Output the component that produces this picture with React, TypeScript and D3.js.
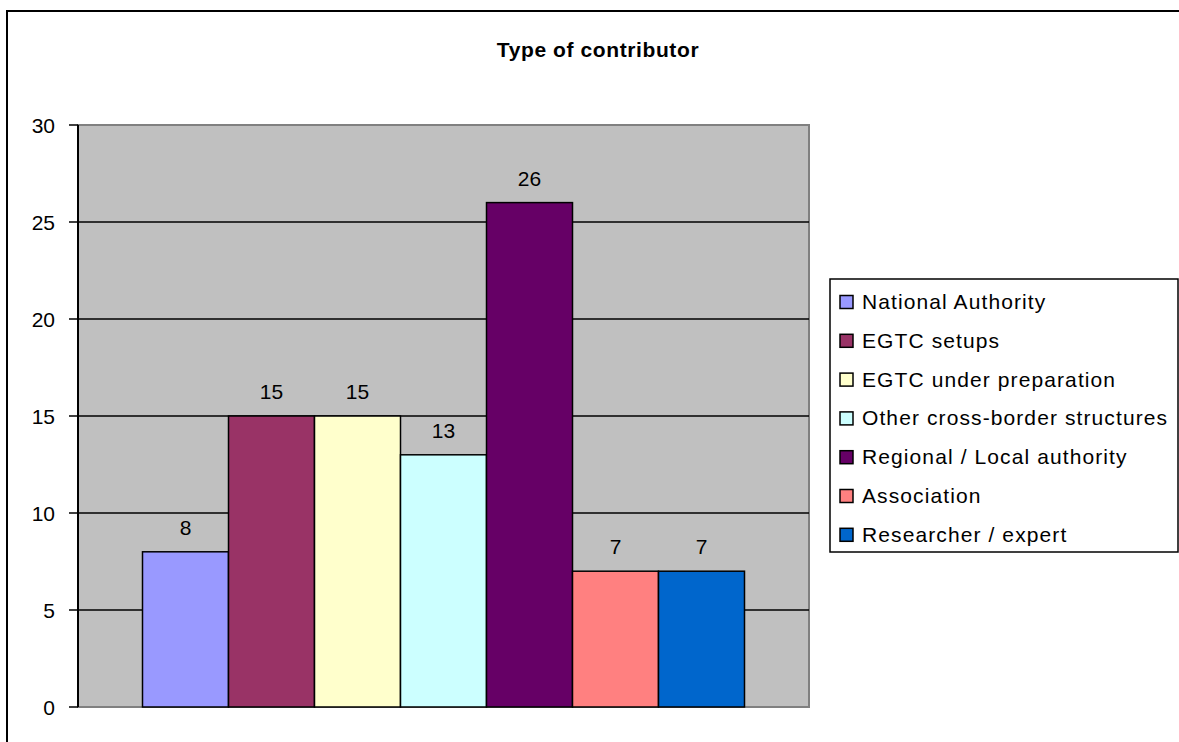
import React from "react";
import * as d3 from "d3";

const categories = [
  "National Authority",
  "EGTC setups",
  "EGTC under preparation",
  "Other cross-border structures",
  "Regional / Local authority",
  "Association",
  "Researcher / expert",
];
const values = [8, 15, 15, 13, 26, 7, 7];
const colors = ["#9999FF", "#993366", "#FFFFCC", "#CCFFFF", "#660066", "#FF8080", "#0066CC"];
const yTicks = [0, 5, 10, 15, 20, 25, 30];

const W = 1179;
const H = 742;
const plot = { left: 78, right: 809, top: 125, bottom: 707 };
const FONT = "Arial, 'Liberation Sans', sans-serif";

export default function App() {
  const y = d3.scaleLinear().domain([0, 30]).range([plot.bottom, plot.top]);
  const pw = plot.right - plot.left;
  const bw = pw / (categories.length + 1.5);
  const x = d3
    .scaleBand<string>()
    .domain(categories)
    .range([plot.left + bw * 0.75, plot.right - bw * 0.75])
    .paddingInner(0);

  const legendTop = 279;
  const legendStep = 38.8;

  return (
    <svg
      width={W}
      height={H}
      style={{ position: "absolute", left: 0, top: 0 }}
      fontFamily={FONT}
    >
      <rect x={0} y={0} width={W} height={H} fill="#fff" />
      {/* outer border */}
      <rect x={7} y={11} width={W + 20} height={H + 20} fill="none" stroke="#000" strokeWidth={2} />
      {/* title */}
      <text x={598} y={56.5} textAnchor="middle" fontSize={21} fontWeight="bold" letterSpacing={0.6}>
        Type of contributor
      </text>
      {/* plot background */}
      <rect
        x={plot.left}
        y={plot.top}
        width={pw}
        height={plot.bottom - plot.top}
        fill="#C0C0C0"
        stroke="#808080"
        strokeWidth={2}
      />
      {/* gridlines */}
      {yTicks.filter((t) => t > 0 && t < 30).map((t) => (
        <line key={t} x1={plot.left} x2={plot.right} y1={y(t)} y2={y(t)} stroke="#000" strokeWidth={1.5} />
      ))}
      {/* bars */}
      {categories.map((c, i) => (
        <rect
          key={c}
          x={x(c)}
          y={y(values[i])}
          width={x.bandwidth()}
          height={y(0) - y(values[i])}
          fill={colors[i]}
          stroke="#000"
          strokeWidth={1.5}
        />
      ))}
      {/* value labels */}
      {categories.map((c, i) => (
        <text
          key={c}
          x={(x(c) as number) + x.bandwidth() / 2}
          y={y(values[i]) - 17}
          textAnchor="middle"
          fontSize={21}
        >
          {values[i]}
        </text>
      ))}
      {/* y axis */}
      <line x1={plot.left} x2={plot.left} y1={plot.top} y2={plot.bottom} stroke="#000" strokeWidth={2} />
      {yTicks.map((t) => (
        <g key={t}>
          <line x1={plot.left - 9} x2={plot.left} y1={y(t)} y2={y(t)} stroke="#000" strokeWidth={1.5} />
          <text x={55} y={y(t)} dy="0.36em" textAnchor="end" fontSize={21}>
            {t}
          </text>
        </g>
      ))}
      {/* legend */}
      <rect x={830} y={279} width={348} height={273} fill="#fff" stroke="#000" strokeWidth={1.5} />
      {categories.map((c, i) => {
        const cy = legendTop + 23 + i * legendStep;
        return (
          <g key={c}>
            <rect x={840} y={cy - 6.5} width={13} height={13} fill={colors[i]} stroke="#000" strokeWidth={1.5} />
            <text x={862} y={cy} dy="0.33em" fontSize={21} letterSpacing={1.1}>
              {c}
            </text>
          </g>
        );
      })}
    </svg>
  );
}
